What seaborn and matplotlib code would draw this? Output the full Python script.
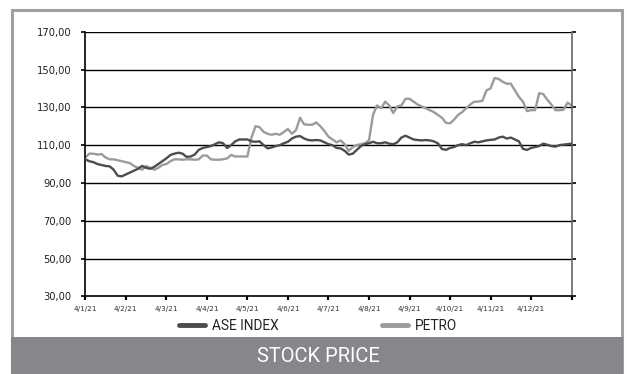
import numpy as np
import pandas as pd
import matplotlib
matplotlib.use("Agg")
import matplotlib.pyplot as plt
from matplotlib.patches import Rectangle
from matplotlib.lines import Line2D
import seaborn as sns

month_labels = ["4/1/21", "4/2/21", "4/3/21", "4/4/21", "4/5/21", "4/6/21",
                "4/7/21", "4/8/21", "4/9/21", "4/10/21", "4/11/21", "4/12/21", ""]
y_ticks = [30, 50, 70, 90, 110, 130, 150, 170]

ase_index = [
    102.5, 101.5, 101, 100, 99.5, 99, 98.8, 97, 93.8, 93.5,
    94.5, 95.5, 96.5, 97.5, 99, 98, 97.5, 98.5, 100, 101.5,
    103, 104.8, 105.5, 106, 105.5, 103.8, 104, 105, 107.5, 108.5,
    109, 109.5, 110.5, 111.5, 111, 108.5, 110, 112, 113, 113,
    113, 112, 111.8, 112, 110, 108.3, 108.8, 109.5, 110, 111,
    111.8, 113.5, 114.5, 114.8, 113.5, 112.7, 112.5, 112.7, 112.5, 111.5,
    110.5, 110, 108.5, 108.3, 107, 105, 105.5, 107.5, 109.5, 110.5,
    111, 111.8, 111, 111, 111.5, 110.8, 110.5, 111.5, 114, 115,
    114, 113, 112.7, 112.5, 112.7, 112.5, 112, 111, 108, 107.5,
    108.5, 109, 110, 110.5, 110, 111, 111.8, 111.5, 112, 112.5,
    112.8, 113, 114, 114.5, 113.5, 114, 113, 112, 108, 107.5,
    108.5, 109, 109.5, 110.8, 110.2, 109.5, 109.2, 110, 110.3, 110.5,
    110.8,
]
petro = [
    103.5, 105.5, 105.5, 105, 105.3, 103.5, 102.5, 102.5, 102, 101.5,
    101, 100.5, 99, 98, 97, 99, 98, 97, 98, 99.5,
    100, 101.5, 102.5, 102.5, 102.3, 102.5, 102.5, 102.3, 102.5, 104.5,
    104.5, 102.5, 102.3, 102.3, 102.5, 103, 104.8, 104, 104, 104,
    104, 114, 120, 119.5, 117, 116, 115.5, 116, 115.5, 117,
    118.5, 116, 118, 124.5, 121, 120.8, 120.8, 122, 120, 117.5,
    114.5, 113, 111.5, 112.5, 110.5, 107, 109, 110, 110.5, 111,
    112.5, 126, 131, 129.5, 133, 131, 127, 130.5, 131, 134.5,
    134.5, 133, 131.5, 130.5, 129.5, 128.5, 127.5, 126, 124.5, 121.8,
    121.5, 123.5, 126, 127.5, 129.5, 131.5, 133, 133, 133.5, 139,
    140, 145.5, 145, 143.5, 142.5, 142.5, 139, 135.5, 133, 128,
    128.5, 128.5, 137.5, 137, 134, 131.5, 128.5, 128.5, 128.7, 132.5,
    131,
]

steps_per_month = 10
pos = np.arange(len(ase_index)) / steps_per_month
df = pd.concat([
    pd.DataFrame({"pos": pos, "value": ase_index, "series": "ASE INDEX"}),
    pd.DataFrame({"pos": pos, "value": petro, "series": "PETRO"}),
])

sns.set_theme(style="white")
plt.rcParams["font.family"] = ["DejaVu Sans"]

W, H = 627, 374
fig = plt.figure(figsize=(W / 100, H / 100), dpi=100)
ax = fig.add_axes([85.3 / W, 1 - 296.4 / H, (571.6 - 85.3) / W, (296.4 - 31.7) / H])

palette = {"ASE INDEX": "#4d4d4d", "PETRO": "#9b9b9b"}
sns.lineplot(data=df, x="pos", y="value", hue="series", palette=palette,
             linewidth=1.7, ax=ax, legend=False, hue_order=["ASE INDEX", "PETRO"])
lines = ax.get_lines()
if len(lines) == 2:
    lines[0].set_zorder(3)
    lines[1].set_zorder(2)

ax.set_xlim(0, 12)
ax.set_ylim(30, 170)
ax.set_xticks(range(13))
ax.set_xticklabels(month_labels)
ax.set_yticks(y_ticks)
ax.set_yticklabels([f"{v:.2f}".replace(".", ",") for v in y_ticks])
ax.set_xlabel("")
ax.set_ylabel("")

for v in y_ticks[1:]:
    ax.axhline(v, color="black", linewidth=1.0, zorder=1)

ax.spines["top"].set_visible(False)
ax.spines["left"].set_color("black")
ax.spines["bottom"].set_color("black")
ax.spines["right"].set_color("#666666")
for side in ["left", "bottom", "right"]:
    ax.spines[side].set_linewidth(1.2)

ax.tick_params(axis="y", which="both", left=True, right=True, direction="out",
               length=3, width=1.2, color="black", labelsize=7.2, pad=7,
               labelcolor="#222222")
ax.tick_params(axis="x", bottom=True, direction="out", length=3, width=1.6,
               color="black", labelsize=5.2, pad=4, labelcolor="#333333")

handles = [Line2D([], [], color=palette["ASE INDEX"], linewidth=3.5, solid_capstyle="round"),
           Line2D([], [], color=palette["PETRO"], linewidth=3.5, solid_capstyle="round")]
fig.legend(handles, ["ASE INDEX", "PETRO"], loc="center",
           bbox_to_anchor=(318 / W, 1 - 326 / H), ncol=2, frameon=False,
           prop={"family": "Roboto", "size": 9.8}, handlelength=1.9,
           handletextpad=0.5, columnspacing=7.6, labelcolor="#222222")

fig.patches.append(Rectangle((12 / W, 0), (622 - 12) / W, 1 - 10 / H,
                             transform=fig.transFigure, fill=False,
                             edgecolor="#a0a0a0", linewidth=2.2, zorder=0))
fig.patches.append(Rectangle((11 / W, 0), (623 - 11) / W, (374 - 337) / H,
                             transform=fig.transFigure, facecolor="#86878b",
                             edgecolor="none", zorder=1))
fig.text(318 / W, 1 - 357 / H, "STOCK PRICE", color="white", ha="center",
         va="center", fontsize=14.5, family="Roboto")

fig.savefig("out.png", dpi=100)
